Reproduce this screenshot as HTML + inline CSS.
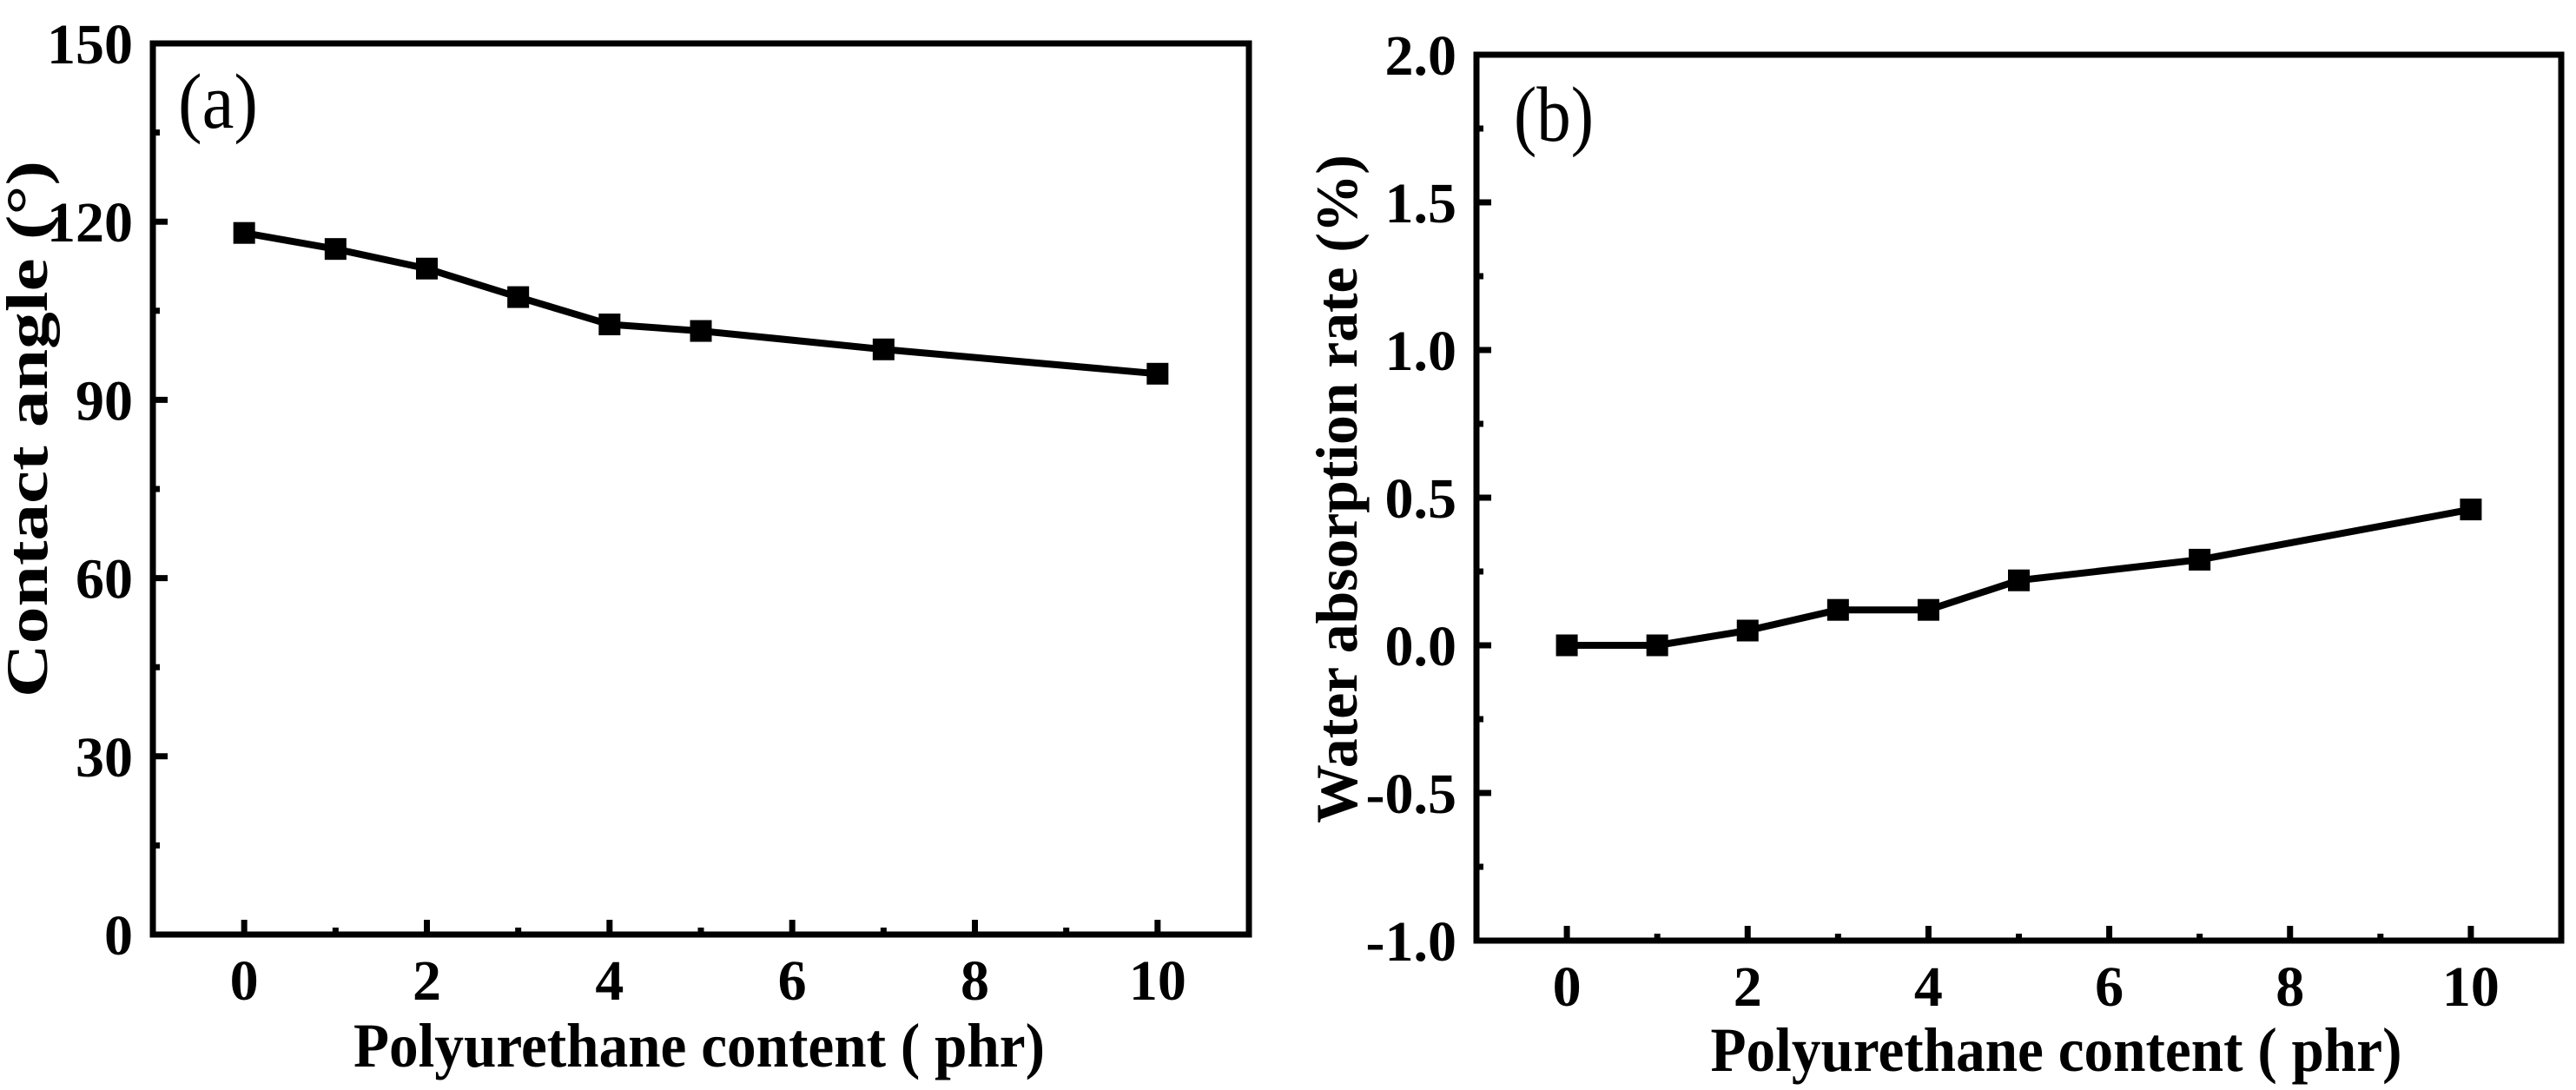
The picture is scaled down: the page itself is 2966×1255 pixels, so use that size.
<!DOCTYPE html>
<html><head><meta charset="utf-8"><style>
html,body{margin:0;padding:0;background:#fff;}
svg{display:block;font-family:"Liberation Serif","Times New Roman",serif;}
</style></head><body>
<svg id="fig" width="2966" height="1255" viewBox="0 0 2966 1255" xmlns="http://www.w3.org/2000/svg"></svg>
<script>
const xCategories = [0, 1, 2, 3, 4, 5, 7, 10];
const contactAngle = [118.1, 115.4, 112.1, 107.3, 102.7, 101.6, 98.5, 94.4];
const waterAbsorption = [0, 0, 0.05, 0.12, 0.12, 0.22, 0.29, 0.46];
const xTickLabels = [0, 2, 4, 6, 8, 10];
const xMinorTicks = [1, 3, 5, 7, 9];
const yTickLabelsA = [0, 30, 60, 90, 120, 150];
const yMinorTicksA = [15, 45, 75, 105, 135];
const yTickLabelsB = [-1.0, -0.5, 0.0, 0.5, 1.0, 1.5, 2.0];
const yMinorTicksB = [-0.75, -0.25, 0.25, 0.75, 1.25, 1.75];

const NS = "http://www.w3.org/2000/svg";
const svg = document.getElementById('fig');
function mk(tag, attrs, parent, text) {
  const e = document.createElementNS(NS, tag);
  for (const k in attrs) e.setAttribute(k, attrs[k]);
  if (text !== undefined) e.textContent = text;
  (parent || svg).appendChild(e);
  return e;
}

function panel(cfg) {
  const g = mk('g', {});
  
  
  const X = v => cfg.L + (v - cfg.xmin) / (cfg.xmax - cfg.xmin) * (cfg.R - cfg.L);
  const Y = v => cfg.B - (v - cfg.ymin) / (cfg.ymax - cfg.ymin) * (cfg.B - cfg.T);

  const frame = mk('rect', {x: cfg.L, y: cfg.T, width: cfg.R - cfg.L, height: cfg.B - cfg.T, fill: 'none', stroke: '#000', 'stroke-width': 7}, g);
  
  

  xTickLabels.forEach(v => {
    const t = mk('line', {x1: X(v), x2: X(v), y1: cfg.B, y2: cfg.B - 17, stroke: '#000', 'stroke-width': 7}, g);
    
    
    const l = mk('text', {x: X(v), y: cfg.B + 75, 'text-anchor': 'middle', 'font-size': 66, 'font-weight': 'bold'}, g, String(v));
    
    
  });
  xMinorTicks.forEach(v => {
    const t = mk('line', {x1: X(v), x2: X(v), y1: cfg.B, y2: cfg.B - 8, stroke: '#000', 'stroke-width': 7}, g);
    
    
  });
  cfg.yTicks.forEach(v => {
    const t = mk('line', {x1: cfg.L, x2: cfg.L + 17, y1: Y(v), y2: Y(v), stroke: '#000', 'stroke-width': 7}, g);
    
    
    const l = mk('text', {x: cfg.L - 23, y: Y(v) + 23, 'text-anchor': 'end', 'font-size': 66, 'font-weight': 'bold'}, g, cfg.fmt(v));
    
    
  });
  cfg.yMinor.forEach(v => {
    const t = mk('line', {x1: cfg.L, x2: cfg.L + 8, y1: Y(v), y2: Y(v), stroke: '#000', 'stroke-width': 7}, g);
    
    
  });

  const pts = xCategories.map((x, i) => X(x) + ',' + Y(cfg.values[i])).join(' ');
  const line = mk('polyline', {points: pts, fill: 'none', stroke: '#000', 'stroke-width': 8, 'stroke-linejoin': 'round'}, g);
  
  
  xCategories.forEach((x, i) => {
    const s = 25;
    const m = mk('rect', {x: X(x) - s / 2, y: Y(cfg.values[i]) - s / 2, width: s, height: s, fill: '#000'}, g);
    
    
  });

  const xt = mk('text', {x: (cfg.L + cfg.R) / 2 + cfg.xtShift - 398, y: cfg.xtY, 'text-anchor': 'start', 'font-size': 72, 'font-weight': 'bold', textLength: 796, lengthAdjust: 'spacingAndGlyphs'}, g, 'Polyurethane content ( phr)');
  
  

  const yt = mk('text', {x: 0, y: 0, 'text-anchor': 'middle', 'font-size': 68, 'font-weight': 'bold'}, g, cfg.ytitle);
  
  
  let w = 0;
  try { w = yt.getComputedTextLength(); } catch (e) { w = 0; }
  const sx = w > 0 ? cfg.ytLen / w : 1;
  yt.setAttribute('transform', 'translate(' + cfg.ytX + ',' + cfg.ytY + ') rotate(-90) scale(' + sx + ',1)');

  const pl = mk('text', {x: cfg.plX, y: cfg.plY, 'font-size': 90, textLength: 92, lengthAdjust: 'spacingAndGlyphs'}, g, cfg.plabel);
  
  
}

panel({name: 'panel-a-contact-angle', L: 176, R: 1438, T: 50, B: 1076, xmin: -1, xmax: 11, ymin: 0, ymax: 150,
  yTicks: yTickLabelsA, yMinor: yMinorTicksA, fmt: v => String(v), values: contactAngle,
  xtY: 1228, xtShift: -2, ytitle: 'Contact angle (°)', ytX: 54, ytY: 494, ytLen: 618,
  plabel: '(a)', plX: 205, plY: 147});
panel({name: 'panel-b-water-absorption', L: 1700, R: 2949, T: 63, B: 1083, xmin: -1, xmax: 11, ymin: -1, ymax: 2,
  yTicks: yTickLabelsB, yMinor: yMinorTicksB, fmt: v => v.toFixed(1), values: waterAbsorption,
  xtY: 1233, xtShift: 43, ytitle: 'Water absorption rate (%)', ytX: 1562, ytY: 563, ytLen: 770,
  plabel: '(b)', plX: 1743, plY: 162});
</script>
</body></html>
